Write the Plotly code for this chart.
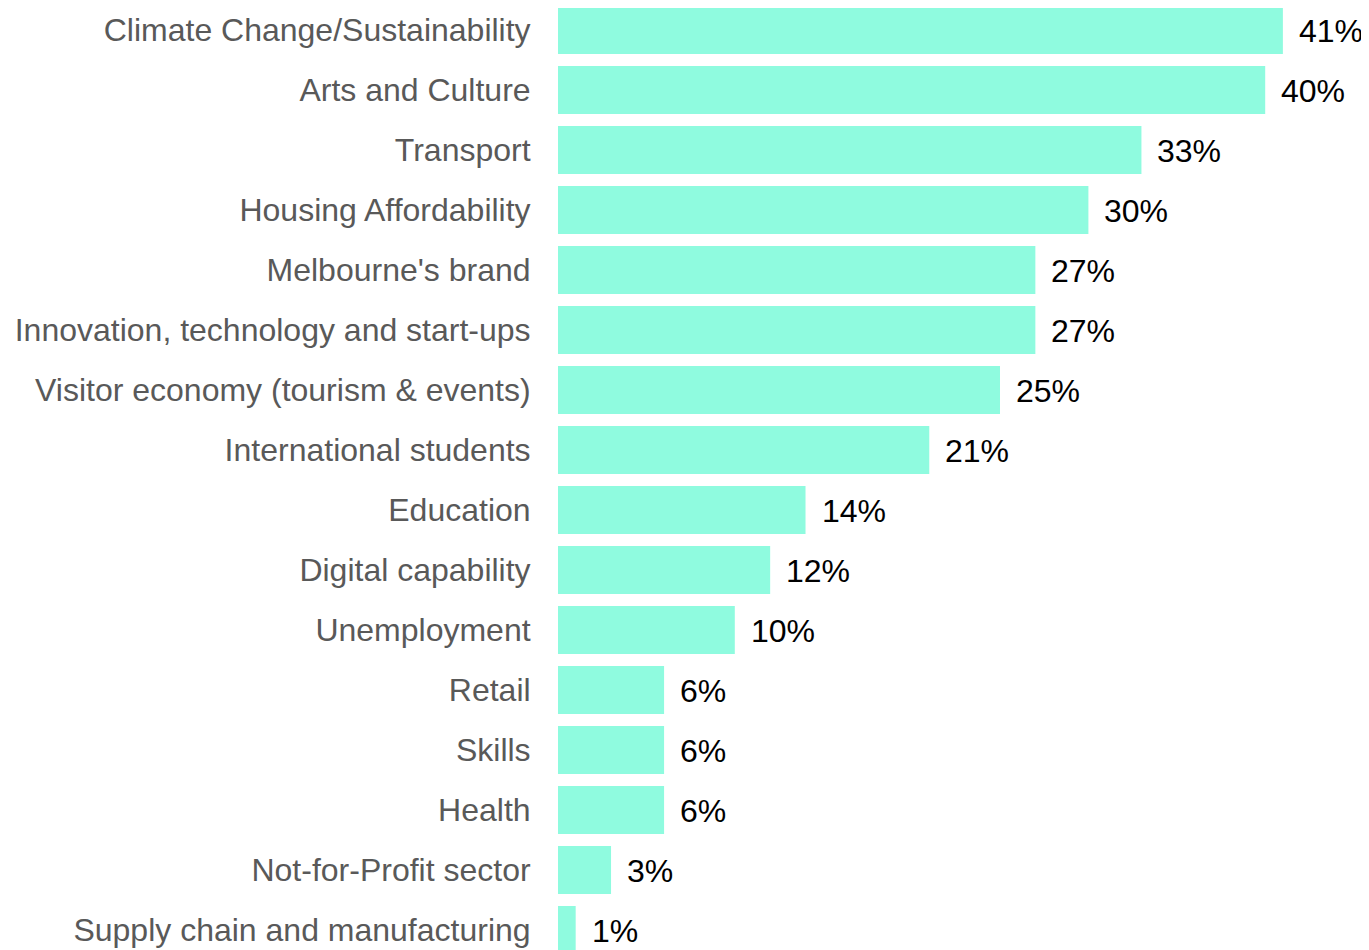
import plotly.graph_objects as go

categories = [
    "Climate Change/Sustainability",
    "Arts and Culture",
    "Transport",
    "Housing Affordability",
    "Melbourne's brand",
    "Innovation, technology and start-ups",
    "Visitor economy (tourism & events)",
    "International students",
    "Education",
    "Digital capability",
    "Unemployment",
    "Retail",
    "Skills",
    "Health",
    "Not-for-Profit sector",
    "Supply chain and manufacturing",
]
values = [41, 40, 33, 30, 27, 27, 25, 21, 14, 12, 10, 6, 6, 6, 3, 1]
value_labels = [f"{v}%" for v in values]
positions = list(range(len(categories)))

BAR_COLOR = "#8FFBDF"
LABEL_COLOR = "#595959"
FONT = "Liberation Sans, Arial, sans-serif"

fig = go.Figure(
    go.Bar(
        x=values,
        y=positions,
        orientation="h",
        marker=dict(color=BAR_COLOR, line=dict(width=0)),
        hoverinfo="x+y",
    )
)

for p, v, t in zip(positions, values, value_labels):
    fig.add_annotation(
        x=v, y=p, text=t, showarrow=False,
        xanchor="left", yanchor="middle", xshift=14, yshift=-1,
        font=dict(family=FONT, size=32, color="#000000"),
    )

# page body has an 8px margin; compensate so the figure fits the window
BODY = 8
W, H = 1369 - BODY, 950 - BODY
left = 558 - BODY
px_per_unit = 17.68
row_px = 60
top_val = -0.5 + BODY / row_px

fig.update_layout(
    width=W, height=H,
    margin=dict(l=left, r=0, t=0, b=0),
    paper_bgcolor="white", plot_bgcolor="white",
    bargap=0.2,
    showlegend=False,
    font=dict(family=FONT),
)
fig.update_xaxes(
    range=[0, (W - left) / px_per_unit],
    visible=False, showgrid=False, zeroline=False,
)
fig.update_yaxes(
    range=[top_val + H / row_px, top_val],
    tickvals=positions, ticktext=categories,
    showgrid=False, zeroline=False, showline=False,
    ticks="outside", ticklen=20, tickcolor="rgba(0,0,0,0)",
    tickfont=dict(family=FONT, size=32, color=LABEL_COLOR),
)

fig.write_html("out.html")
